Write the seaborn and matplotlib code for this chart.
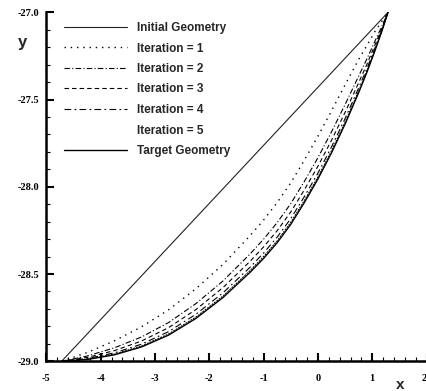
import matplotlib
matplotlib.use("Agg")
import matplotlib.pyplot as plt
import seaborn as sns
from matplotlib.ticker import MultipleLocator, FixedLocator

sns.set_theme(style="white")
plt.rcParams['font.family'] = ['Liberation Sans', 'DejaVu Sans']

# ---- data ----
x_grid = [-4.72, -4.25, -3.75, -3.25, -2.75, -2.25, -1.75, -1.25, -1.0, -0.75,
          -0.5, -0.25, 0.0, 0.25, 0.5, 0.75, 0.9, 1.05, 1.18, 1.29]

initial_x = [-4.72, 1.29]
initial_y = [-29.0, -27.0]

iter1_y = [-29.0, -28.950, -28.883, -28.803, -28.705, -28.585, -28.445, -28.28, -28.19, -28.09,
           -27.977, -27.847, -27.71, -27.565, -27.415, -27.27, -27.19, -27.11, -27.05, -27.0]
iter2_y = [-29.0, -28.970, -28.923, -28.861, -28.778, -28.670, -28.540, -28.385, -28.30, -28.205,
           -28.096, -27.969, -27.833, -27.685, -27.528, -27.365, -27.268, -27.165, -27.078, -27.0]
iter3_y = [-29.0, -28.978, -28.939, -28.884, -28.807, -28.704, -28.578, -28.427, -28.344, -28.251,
           -28.144, -28.017, -27.882, -27.733, -27.573, -27.403, -27.299, -27.187, -27.089, -27.0]
iter4_y = [-29.0, -28.984, -28.952, -28.902, -28.830, -28.731, -28.608, -28.461, -28.379, -28.288,
           -28.182, -28.056, -27.921, -27.771, -27.609, -27.433, -27.323, -27.205, -27.097, -27.0]
iter5_y = [-29.0, -28.988, -28.959, -28.912, -28.843, -28.747, -28.626, -28.480, -28.399, -28.309,
           -28.203, -28.078, -27.943, -27.793, -27.629, -27.451, -27.337, -27.215, -27.102, -27.0]
target_y = [-29.0, -28.990, -28.963, -28.918, -28.850, -28.755, -28.635, -28.49, -28.41, -28.32,
            -28.215, -28.09, -27.955, -27.805, -27.64, -27.46, -27.345, -27.22, -27.105, -27.0]

labels = ["Initial Geometry", "Iteration = 1", "Iteration = 2", "Iteration = 3",
          "Iteration = 4", "Iteration = 5", "Target Geometry"]
x_ticks = [-5, -4, -3, -2, -1, 0, 1, 2]
y_ticks = [-27.0, -27.5, -28.0, -28.5, -29.0]
y_tick_labels = ["-27.0", "-27.5", "-28.0", "-28.5", "-29.0"]

# ---- figure ----
fig = plt.figure(figsize=(4.27, 3.91), dpi=100)
ax = fig.add_axes([0.1087, 0.076, 0.8903, 0.8925])

styles = [
    dict(linestyle='-', linewidth=0.8, color='#222222'),
    dict(linestyle=(0, (1.0, 3.5)), linewidth=1.0, color='black'),
    dict(linestyle=(0, (5, 2, 1, 2)), linewidth=0.8, color='black'),
    dict(linestyle=(0, (4, 2.8)), linewidth=0.8, color='black'),
    dict(linestyle=(0, (6, 3, 1.5, 3)), linewidth=0.8, color='black'),
    dict(linestyle=(0, (2, 1)), linewidth=0.7, color='black'),
    dict(linestyle='-', linewidth=1.0, color='black'),
]
series_y = [iter1_y, iter2_y, iter3_y, iter4_y, iter5_y, target_y]

sns.lineplot(x=initial_x, y=initial_y, ax=ax, label=labels[0], sort=False, **styles[0])
for lab, yy, st in zip(labels[1:], series_y, styles[1:]):
    sns.lineplot(x=x_grid, y=yy, ax=ax, label=lab, sort=False, **st)

ax.set_xlim(-5, 2)
ax.set_ylim(-29.0, -27.0)

for s in ['top', 'right']:
    ax.spines[s].set_visible(False)
for s in ['left', 'bottom']:
    ax.spines[s].set_linewidth(1.8)
    ax.spines[s].set_color('black')

ax.xaxis.set_major_locator(FixedLocator(x_ticks))
ax.xaxis.set_minor_locator(MultipleLocator(0.2))
ax.yaxis.set_major_locator(FixedLocator(y_ticks))
ax.yaxis.set_minor_locator(MultipleLocator(0.1))
ax.set_xticklabels([str(v) for v in x_ticks])
ax.set_yticklabels(y_tick_labels)
ax.tick_params(axis='both', which='major', direction='in', length=6, width=1.5,
               colors='black', labelsize=7.5, bottom=True, left=True)
ax.tick_params(axis='both', which='minor', direction='in', length=3, width=0.8,
               colors='black', bottom=True, left=True)
ax.tick_params(axis='x', which='major', pad=9)
ax.tick_params(axis='y', which='major', pad=5)
for t in ax.get_xticklabels() + ax.get_yticklabels():
    t.set_family('Liberation Serif')
    t.set_fontweight('bold')
ax.get_xticklabels()[-1].set_horizontalalignment('right')

ax.set_xlabel('')
ax.set_ylabel('')
fig.text(22 / 427, 1 - 42 / 391, 'y', fontsize=12, fontweight='bold', ha='center', va='center')
fig.text(400 / 427, 1 - 385 / 391, 'x', fontsize=11, fontweight='bold', ha='center', va='center')

handles, labs = ax.get_legend_handles_labels()
leg = ax.legend(handles, labs, loc='upper left', bbox_to_anchor=(64 / 427, 1 - 22 / 391),
                bbox_transform=fig.transFigure, frameon=False, borderpad=0,
                borderaxespad=0, handlelength=5.3, handletextpad=0.9,
                labelspacing=0.72, prop=dict(family='Liberation Sans', weight='bold', size=8.5))
# the reference shows no sample line for iteration 5
leg.get_lines()[5].set_visible(False)

fig.savefig('out.png', dpi=100)
